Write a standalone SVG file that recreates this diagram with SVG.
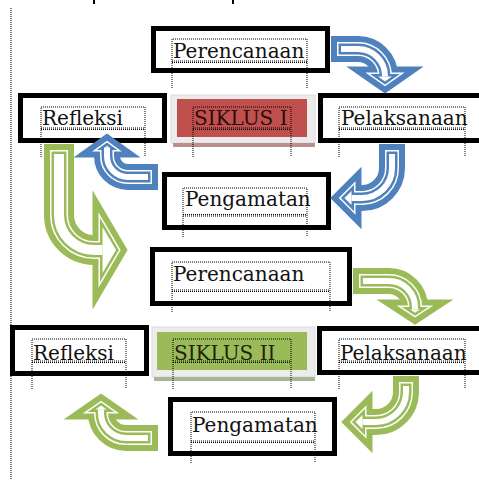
<svg xmlns="http://www.w3.org/2000/svg" xmlns:xlink="http://www.w3.org/1999/xlink" width="479" height="480" viewBox="0 0 479 480">
<style>
.box{fill:#fff;stroke:#000;stroke-width:5}
.dot{fill:none;stroke:#000;stroke-width:1;stroke-dasharray:1 1}
.t{font-family:"DejaVu Serif","Liberation Serif",serif;font-size:20px;fill:#111}
.b{stroke:#4f81bd;fill:#4f81bd}
.g{stroke:#9bbb59;fill:#9bbb59}
.w{stroke:#fff;fill:#fff}
.s1{stroke-width:26}
.s2{stroke-width:14;stroke-dasharray:0 6 2000}
.s3{stroke-width:11;stroke-dasharray:0 7.5 2000}
.s4{stroke-width:6;stroke-dasharray:0 10 2000}
.S1{stroke-width:30}
.S2{stroke-width:18;stroke-dasharray:0 6 2000}
.S3{stroke-width:15;stroke-dasharray:0 7.5 2000}
.S4{stroke-width:10;stroke-dasharray:0 10 2000}
.h1{stroke-width:20}
.h2{stroke-width:8}
.h3{stroke-width:5}
.h4{stroke:none}
use{stroke-linejoin:miter;stroke-miterlimit:10}
</style>
<defs>
<path id="sa1" fill="none" d="M331,49 H358 A27,27 0 0 1 385,76 V76.5"/>
<path id="ha1" d="M378,76.5 H392 L385,81.4Z"/>
<path id="sa2" fill="none" d="M392,144 V168 A30,30 0 0 1 362,198 H351.5"/>
<path id="ha2" d="M351.5,190.9 V205.1 L344.4,198Z"/>
<path id="sa3" fill="none" d="M158,177 H128 A21,21 0 0 1 107,156 V147.5"/>
<path id="ha3" d="M104.5,147.5 H109.5 L107,145.7Z"/>
<path id="sa4" fill="none" d="M59,144 V215 A35,35 0 0 0 94,250 H102.5"/>
<path id="ha4" d="M102.5,227 V273 L116,250Z"/>
<path id="sa5" fill="none" d="M353,281 H389 A26,26 0 0 1 415,307 V309.5"/>
<path id="ha5" d="M410.1,309.5 H419.9 L415,312.7Z"/>
<path id="sa6" fill="none" d="M406,376 V392 A30,30 0 0 1 376,422 H362.5"/>
<path id="ha6" d="M362.5,414.9 V429.1 L355.4,422Z"/>
<path id="sa7" fill="none" d="M158,438 H126 A25,25 0 0 1 101,413 V409.5"/>
<path id="ha7" d="M95.4,409.5 H106.6 L101,405.6Z"/>
</defs>
<rect width="479" height="480" fill="#fff"/>
<line x1="11" y1="8" x2="11" y2="480" class="dot"/>
<line x1="94" y1="0" x2="94" y2="4" stroke="#000" stroke-width="2"/>
<line x1="233" y1="0" x2="233" y2="4" stroke="#000" stroke-width="2"/>

<g id="perencanaan1">
<rect class="box" x="153.5" y="28.5" width="174" height="42"/>
<path class="dot" d="M172,88 V39 H307 V88 M172,61 H307 M172,62.5 H307"/>
<text class="t" x="173" y="58">Perencanaan</text>
</g>
<g id="refleksi1">
<rect class="box" x="20.5" y="95.5" width="144" height="45"/>
<path class="dot" d="M41,157 V107 H145 V157 M41,128 H145 M41,129.5 H145"/>
<text class="t" x="42" y="125">Refleksi</text>
</g>
<g id="siklus1">
<rect x="171" y="95" width="144" height="48" fill="#ececec" stroke="#dadada" stroke-width="1"/>
<rect x="173" y="143" width="142" height="4" fill="#b98f8f"/>
<rect x="177" y="99" width="130" height="38" fill="#c0504d"/>
<path class="dot" d="M193,157 V107 H291 V157 M193,128 H291 M193,129.5 H291"/>
<text class="t" x="194" y="125" style="fill:#2a0c0c">SIKLUS I</text>
</g>
<g id="pelaksanaan1">
<rect class="box" x="320.5" y="95.5" width="165" height="45"/>
<path class="dot" d="M339,157 V107 H465 V157 M339,128 H465 M339,129.5 H465"/>
<text class="t" x="341" y="125">Pelaksanaan</text>
</g>
<g id="pengamatan1">
<rect class="box" x="164.5" y="174.5" width="164" height="53"/>
<path class="dot" d="M183,237 V188 H307 V237 M183,214.5 H307 M183,216 H307"/>
<text class="t" x="185" y="206">Pengamatan</text>
</g>
<g id="perencanaan2">
<rect class="box" x="152.5" y="249.5" width="197" height="54"/>
<path class="dot" d="M172,312 V262 H330 V312 M172,290 H330 M172,291.5 H330"/>
<text class="t" x="173" y="281">Perencanaan</text>
</g>
<g id="refleksi2">
<rect class="box" x="12.5" y="327.5" width="134" height="46"/>
<path class="dot" d="M32,389 V339 H126 V389 M32,361 H126 M32,362.5 H126"/>
<text class="t" x="33" y="360">Refleksi</text>
</g>
<g id="siklus2">
<rect x="152" y="327" width="163" height="50" fill="#ececec" stroke="#dadada" stroke-width="1"/>
<rect x="154" y="377" width="161" height="4" fill="#a9b598"/>
<rect x="157" y="332" width="150" height="38" fill="#9bbb59"/>
<path class="dot" d="M173,389 V339 H291 V389 M173,361 H291 M173,362.5 H291"/>
<text class="t" x="174" y="360" style="fill:#1c240e">SIKLUS II</text>
</g>
<g id="pelaksanaan2">
<rect class="box" x="319.5" y="328.5" width="170" height="44"/>
<path class="dot" d="M339,389 V339 H465 V389 M339,361 H465 M339,362.5 H465"/>
<text class="t" x="340" y="360">Pelaksanaan</text>
</g>
<g id="pengamatan2">
<rect class="box" x="170.5" y="399.5" width="164" height="54"/>
<path class="dot" d="M191,463 V412 H315 V463 M191,441 H315 M191,442.5 H315"/>
<text class="t" x="192" y="432">Pengamatan</text>
</g>

<g id="connectors">
<g id="arrow-r1-p2">
<use xlink:href="#sa4" class="S1 g"/><use xlink:href="#ha4" class="h1 g"/>
<use xlink:href="#sa4" class="S2 w"/><use xlink:href="#ha4" class="h2 w"/>
<use xlink:href="#sa4" class="S3 g"/><use xlink:href="#ha4" class="h3 g"/>
<use xlink:href="#sa4" class="S4 w"/><use xlink:href="#ha4" class="h4 w"/>
</g>
<g id="arrow-p1-pel1">
<use xlink:href="#sa1" class="s1 b"/><use xlink:href="#ha1" class="h1 b"/>
<use xlink:href="#sa1" class="s2 w"/><use xlink:href="#ha1" class="h2 w"/>
<use xlink:href="#sa1" class="s3 b"/><use xlink:href="#ha1" class="h3 b"/>
<use xlink:href="#sa1" class="s4 w"/><use xlink:href="#ha1" class="h4 w"/>
</g>
<g id="arrow-pel1-pg1">
<use xlink:href="#sa2" class="s1 b"/><use xlink:href="#ha2" class="h1 b"/>
<use xlink:href="#sa2" class="s2 w"/><use xlink:href="#ha2" class="h2 w"/>
<use xlink:href="#sa2" class="s3 b"/><use xlink:href="#ha2" class="h3 b"/>
<use xlink:href="#sa2" class="s4 w"/><use xlink:href="#ha2" class="h4 w"/>
</g>
<g id="arrow-pg1-r1">
<use xlink:href="#sa3" class="s1 b"/><use xlink:href="#ha3" class="h1 b"/>
<use xlink:href="#sa3" class="s2 w"/><use xlink:href="#ha3" class="h2 w"/>
<use xlink:href="#sa3" class="s3 b"/><use xlink:href="#ha3" class="h3 b"/>
<use xlink:href="#sa3" class="s4 w"/><use xlink:href="#ha3" class="h4 w"/>
</g>
<g id="arrow-p2-pel2">
<use xlink:href="#sa5" class="s1 g"/><use xlink:href="#ha5" class="h1 g"/>
<use xlink:href="#sa5" class="s2 w"/><use xlink:href="#ha5" class="h2 w"/>
<use xlink:href="#sa5" class="s3 g"/><use xlink:href="#ha5" class="h3 g"/>
<use xlink:href="#sa5" class="s4 w"/><use xlink:href="#ha5" class="h4 w"/>
</g>
<g id="arrow-pel2-pg2">
<use xlink:href="#sa6" class="s1 g"/><use xlink:href="#ha6" class="h1 g"/>
<use xlink:href="#sa6" class="s2 w"/><use xlink:href="#ha6" class="h2 w"/>
<use xlink:href="#sa6" class="s3 g"/><use xlink:href="#ha6" class="h3 g"/>
<use xlink:href="#sa6" class="s4 w"/><use xlink:href="#ha6" class="h4 w"/>
</g>
<g id="arrow-pg2-r2">
<use xlink:href="#sa7" class="s1 g"/><use xlink:href="#ha7" class="h1 g"/>
<use xlink:href="#sa7" class="s2 w"/><use xlink:href="#ha7" class="h2 w"/>
<use xlink:href="#sa7" class="s3 g"/><use xlink:href="#ha7" class="h3 g"/>
<use xlink:href="#sa7" class="s4 w"/><use xlink:href="#ha7" class="h4 w"/>
</g>
</g>
</svg>
